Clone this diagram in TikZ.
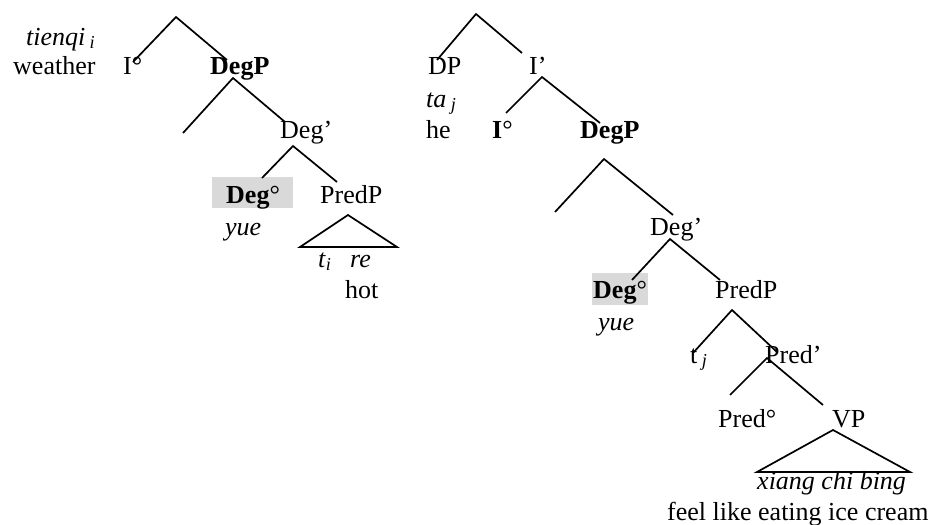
\documentclass[tikz,border=0pt]{standalone}
\usepackage{fontspec}
\setmainfont{Liberation Serif}
\definecolor{boxgray}{HTML}{D9D9D9}
\begin{document}
\begin{tikzpicture}[x=1pt,y=-1pt,
  lbl/.style={anchor=base west, inner sep=0pt, font=\fontsize{26}{30}\selectfont},
  br/.style={line width=1.7pt},
  hbox/.style={fill=boxgray, draw=none}]
\useasboundingbox (0,0) rectangle (935,525);
% grey boxes
\fill[boxgray] (212,177) rectangle (293,208);
\fill[boxgray] (592,273) rectangle (648,305);
% ---------- left tree texts
\node[lbl] (tienqi) at (26,45) {\textit{tienqi}\,\textsubscript{\textit{i}}};
\node[lbl] (weather) at (13,74) {weather};
\node[lbl] (Ia) at (123,74) {I°};
\node[lbl] (DegPa) at (210,74) {\textbf{DegP}};
\node[lbl] (Degbara) at (280,138) {Deg’};
\node[lbl] (Dega) at (226,203) {\textbf{Deg}°};
\node[lbl] (PredPa) at (320,203) {PredP};
\node[lbl] (yuea) at (225,235) {\textit{yue}};
\node[lbl] (ti) at (318,267) {\textit{t}\textsubscript{\textit{i}}};
\node[lbl] (re) at (350,267) {\textit{re}};
\node[lbl] (hot) at (345,298) {hot};
% ---------- right tree texts
\node[lbl] (DP) at (428,74) {DP};
\node[lbl] (Ibar) at (529,74) {I’};
\node[lbl] (ta) at (426,107) {\textit{ta}\,\textsubscript{\textit{j}}};
\node[lbl] (he) at (426,138) {he};
\node[lbl] (Ib) at (492,138) {\textbf{I}°};
\node[lbl] (DegPb) at (580,138) {\textbf{DegP}};
\node[lbl] (Degbarb) at (650,235) {Deg’};
\node[lbl] (Degb) at (593,298) {\textbf{Deg}°};
\node[lbl] (PredPb) at (715,298) {PredP};
\node[lbl] (yueb) at (598,330) {\textit{yue}};
\node[lbl] (tj) at (690,363) {t\,\textsubscript{\textit{j}}};
\node[lbl] (Predbar) at (765,363) {Pred’};
\node[lbl] (Pred) at (718,427) {Pred°};
\node[lbl] (VP) at (832,427) {VP};
\node[lbl] (xcb) at (757,489) {\textit{xiang chi bing}};
\node[lbl] (feel) at (667,520) {feel like eating ice cream};
% ---------- left tree branches
\coordinate (a0) at (176,17);
\coordinate (a0l) at (133,62);
\coordinate (a0r) at (227,60);
\coordinate (a1) at (233,78);
\coordinate (a1l) at (183,133);
\coordinate (a1r) at (285,122);
\coordinate (a2) at (293,146);
\coordinate (a2l) at (262,178);
\coordinate (a2r) at (337,182);
\coordinate (t1) at (348,215);
\coordinate (t1l) at (300,247);
\coordinate (t1r) at (397,247);
\draw[br] (a0l) -- (a0) -- (a0r);
\draw[br] (a1l) -- (a1) -- (a1r);
\draw[br] (a2l) -- (a2) -- (a2r);
\draw[br] (t1) -- (t1l) -- (t1r) -- cycle;
% ---------- right tree branches
\coordinate (b0) at (476,14);
\coordinate (b0l) at (437,60);
\coordinate (b0r) at (522,53);
\coordinate (b1) at (542,77);
\coordinate (b1l) at (506,113);
\coordinate (b1r) at (600,123);
\coordinate (b2) at (604,159);
\coordinate (b2l) at (555,212);
\coordinate (b2r) at (673,215);
\coordinate (b3) at (670,239);
\coordinate (b3l) at (632,280);
\coordinate (b3r) at (720,280);
\coordinate (b4) at (732,310);
\coordinate (b4l) at (693,353);
\coordinate (b4r) at (777,352);
\coordinate (b5) at (767,358);
\coordinate (b5l) at (730,395);
\coordinate (b5r) at (823,405);
\coordinate (t2) at (833,430);
\coordinate (t2l) at (757,472);
\coordinate (t2r) at (910,472);
\draw[br] (b0l) -- (b0) -- (b0r);
\draw[br] (b1l) -- (b1) -- (b1r);
\draw[br] (b2l) -- (b2) -- (b2r);
\draw[br] (b3l) -- (b3) -- (b3r);
\draw[br] (b4l) -- (b4) -- (b4r);
\draw[br] (b5l) -- (b5) -- (b5r);
\draw[br] (t2) -- (t2l) -- (t2r) -- cycle;
\end{tikzpicture}
\end{document}
